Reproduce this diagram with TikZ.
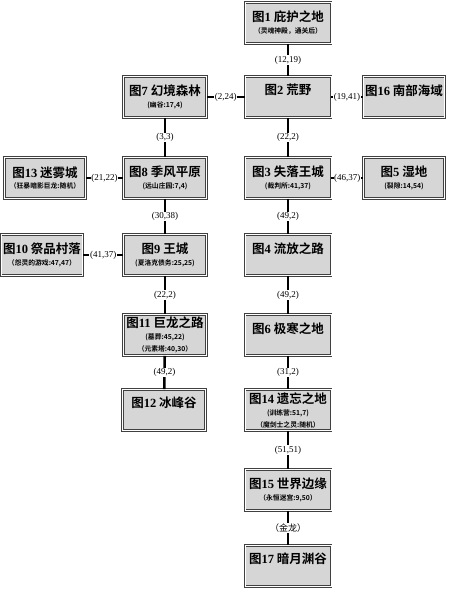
\documentclass[tikz,border=0pt]{standalone}
\usepackage{fontspec}
\setmainfont{Liberation Serif}
\newfontfamily\cjk[BoldFont={Noto Sans CJK SC Bold}]{Noto Sans CJK SC}
\newcommand\maptitle[2]{{\fontsize{12.5}{15}\selectfont\cjk\bfseries 图\textbf{\rmfamily #1} #2}}
\newcommand\mapnote[1]{{\fontsize{6.8}{9}\selectfont\cjk\bfseries #1}}

\begin{document}
\begin{tikzpicture}[x=1pt, y=-1pt,
    mapbox/.style={draw=black!75, double=white, double distance=1pt, line width=0.9pt,
        fill=black!16, minimum width=86pt, minimum height=41pt, align=center, inner sep=2pt},
    road/.style={line width=2.6pt},
    pass/.style={fill=white, inner sep=0.6pt, font=\fontsize{9}{10}\selectfont}]
        \useasboundingbox (0,0) rectangle (450,589);
        % Draw the maps, right column
        \node[mapbox] (m1) at (288,23) {\maptitle{1}{庇护之地}\\\mapnote{（灵魂神殿，通关后）}};
        \node[mapbox] (m2) at (288,97) {\maptitle{2}{荒野}\\\mapnote{\strut}};
        \node[mapbox] (m3) at (288,178) {\maptitle{3}{失落王城}\\\mapnote{(裁判所:41,37)}};
        \node[mapbox] (m4) at (288,255) {\maptitle{4}{流放之路}\\\mapnote{\strut}};
        \node[mapbox] (m6) at (288,335) {\maptitle{6}{极寒之地}\\\mapnote{\strut}};
        \node[mapbox] (m14) at (288,410) {\maptitle{14}{遗忘之地}\\\mapnote{(训练营:51,7)}\\\mapnote{（魔剑士之灵:随机）}};
        \node[mapbox] (m15) at (288,490) {\maptitle{15}{世界边缘}\\\mapnote{（永恒迷宫:9,50）}};
        \node[mapbox] (m17) at (288,566) {\maptitle{17}{暗月渊谷}\\\mapnote{\strut}};
        % Draw the maps, far right
        \node[mapbox, minimum width=81pt] (m16) at (404,97) {\maptitle{16}{南部海域}\\\mapnote{\strut}};
        \node[mapbox, minimum width=81pt] (m5) at (404,178) {\maptitle{5}{湿地}\\\mapnote{(裂隙:14,54)}};
        % Draw the maps, middle column
        \node[mapbox, minimum width=83pt] (m7) at (165,97) {\maptitle{7}{幻境森林}\\\mapnote{(幽谷:17,4)}};
        \node[mapbox, minimum width=83pt] (m8) at (165,178) {\maptitle{8}{季风平原}\\\mapnote{(远山庄园:7,4)}};
        \node[mapbox, minimum width=83pt] (m9) at (165,255) {\maptitle{9}{王城}\\\mapnote{(夏洛克债务:25,25)}};
        \node[mapbox, minimum width=83pt] (m11) at (165,335) {\maptitle{11}{巨龙之路}\\\mapnote{(墓葬:45,22)}\\\mapnote{（元素塔:40,30）}};
        \node[mapbox, minimum width=83pt] (m12) at (164,410) {\maptitle{12}{冰峰谷}\\\mapnote{\strut}};
        % Draw the maps, left column
        \node[mapbox, minimum width=81pt] (m13) at (45,178) {\maptitle{13}{迷雾城}\\\mapnote{（狂暴暗影巨龙:随机）}};
        \node[mapbox, minimum width=77pt] (m10) at (42,255) {\maptitle{10}{祭品村落}\\\mapnote{（怨灵的游戏:47,47）}};
        % Draw the roads
        \draw[road] (m1) -- node[pass] {(12,19)} (m2);
        \draw[road] (m2) -- node[pass] {(22,2)} (m3);
        \draw[road] (m3) -- node[pass] {(49,2)} (m4);
        \draw[road] (m4) -- node[pass] {(49,2)} (m6);
        \draw[road] (m6) -- node[pass] {(31,2)} (m14);
        \draw[road] (m14) -- node[pass] {(51,51)} (m15);
        \draw[road] (m15) -- node[pass] {\cjk （金龙）} (m17);
        \draw[road] (m7) -- node[pass] {(2,24)} (m2);
        \draw[road] (m2) -- node[pass] {(19,41)} (m16);
        \draw[road] (m3) -- node[pass] {(46,37)} (m5);
        \draw[road] (m7) -- node[pass] {(3,3)} (m8);
        \draw[road] (m13) -- node[pass] {(21,22)} (m8);
        \draw[road] (m8) -- node[pass] {(30,38)} (m9);
        \draw[road] (m10) -- node[pass] {(41,37)} (m9);
        \draw[road] (m9) -- node[pass] {(22,2)} (m11);
        \draw[road] (m11) -- node[pass] {(49,2)} (m12);
    \end{tikzpicture}
\end{document}
